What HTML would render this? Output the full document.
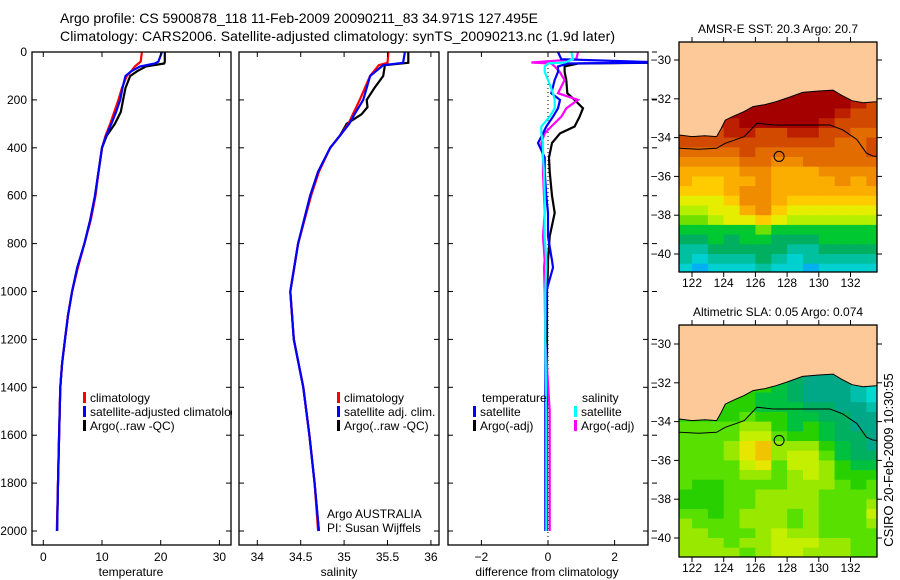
<!DOCTYPE html>
<html><head><meta charset="utf-8">
<style>
html,body{margin:0;padding:0;background:#fff;}
svg{display:block;font-family:"Liberation Sans",sans-serif;}
</style></head>
<body>
<svg id="fig" width="900" height="580" viewBox="0 0 900 580" xmlns="http://www.w3.org/2000/svg">
<defs>
<clipPath id="c1"><rect x="32" y="52" width="199" height="493"/></clipPath>
<clipPath id="c2"><rect x="239" y="52" width="200" height="493"/></clipPath>
<clipPath id="c3"><rect x="448" y="52" width="200" height="493"/></clipPath>
<clipPath id="m1"><rect x="679" y="42" width="198" height="230"/></clipPath>
<clipPath id="m2"><rect x="679" y="325" width="198" height="232"/></clipPath>
</defs>
<text x="60" y="23" font-size="14" textLength="478">Argo profile: CS 5900878_118 11-Feb-2009 20090211_83 34.971S 127.495E</text>
<text x="60" y="41" font-size="14" textLength="555">Climatology: CARS2006. Satellite-adjusted climatology: synTS_20090213.nc (1.9d later)</text>
<text transform="translate(893,460) rotate(-90)" font-size="13" text-anchor="middle">CSIRO 20-Feb-2009 10:30:55</text>
</svg>
<script>
// ---------- data ----------
const depthT = [0,40,48,60,80,100,150,200,250,300,350,400,500,600,700,800,900,1000,1100,1200,1300,1400,1600,1800,2000];
const tempArgo = [20.7,20.7,20.6,17.5,16.0,14.8,14.0,13.6,13.2,12.2,10.8,10.0,9.4,8.8,8.0,7.0,5.8,4.9,4.2,3.7,3.2,2.9,2.7,2.5,2.35];
const tempClim = [16.8,16.6,16.2,15.6,15.0,14.2,13.4,12.8,12.1,11.4,10.6,10.0,9.4,8.9,8.1,7.0,5.9,4.9,4.2,3.7,3.2,2.9,2.7,2.5,2.3];
const tempSat  = [20.2,19.6,19.0,16.5,15.0,14.0,13.5,13.1,12.4,11.6,10.7,10.0,9.4,8.8,8.0,7.0,5.8,4.9,4.2,3.7,3.2,2.9,2.7,2.5,2.35];
const depthS = [0,45,55,100,150,200,230,260,300,350,400,500,600,800,1000,1200,1400,1600,1800,2000];
const salArgo = [35.74,35.74,35.47,35.45,35.35,35.26,35.27,35.2,35.03,34.95,34.84,34.7,34.61,34.47,34.38,34.42,34.53,34.6,34.66,34.71];
const salClim = [35.51,35.5,35.4,35.3,35.24,35.18,35.14,35.1,35.05,34.95,34.84,34.71,34.62,34.47,34.38,34.42,34.53,34.6,34.66,34.7];
const salSat  = [35.7,35.68,35.45,35.3,35.26,35.22,35.17,35.12,35.06,34.95,34.84,34.7,34.61,34.47,34.38,34.42,34.53,34.6,34.66,34.71];
const depthD = [0,30,44,48,60,83,117,172,200,235,270,311,340,380,440,500,600,672,770,870,900,1000,1200,1500,1800,2000];
const diffTArgo = [3.9,3.9,3.9,0.9,0.5,0.5,0.55,0.58,0.8,1.05,0.95,0.8,0.36,0.12,0.03,0.05,0.12,0.2,0.05,0.0,0.0,-0.03,-0.03,-0.03,-0.03,-0.03];
const diffTSat  = [0.3,0.4,3.5,0.6,0.3,0.3,0.2,0.1,0.36,0.3,0.15,-0.05,-0.15,-0.3,-0.1,-0.1,-0.05,0.0,0.0,0.12,0.15,-0.05,-0.08,-0.08,-0.08,-0.08];
const diffSSat  = [0.7,0.75,0.5,0.0,-0.1,-0.1,0.0,0.15,0.2,0.2,0.05,-0.2,-0.2,-0.15,-0.15,-0.12,-0.1,-0.1,-0.1,-0.05,-0.05,-0.08,-0.08,-0.05,-0.05,-0.05];
const diffSArgo = [0.9,0.85,-0.5,0.1,0.2,0.35,0.5,0.3,0.9,0.55,0.4,0.1,-0.1,-0.2,-0.15,-0.15,-0.12,-0.1,-0.15,-0.1,-0.12,-0.1,-0.08,0.05,0.05,0.05];
const depthTicks = [0,200,400,600,800,1000,1200,1400,1600,1800,2000];
const tempTicks = [0,10,20,30];
const salTicks = [34,34.5,35,35.5,36];
const salTickLabels = ["34","34.5","35","35.5","36"];
const diffTicks = [-2,0,2];
const latTicks = [-30,-32,-34,-36,-38,-40];
const lonTicks = [122,124,126,128,130,132];
const argoLon = 127.495, argoLat = -34.971;
const sstGrid = [
[0,0,0,0,0,0,0,0,0,0,0,1,2],[0,0,0,0,0,0,0,0,0,0,0,1,2],[0,0,0,0,0,0,0,0,0,0,1,2,2],
[1,1,1,1,0,0,0,0,0,1,2,2,2],[2,2,2,1,1,2,2,1,1,2,2,3,3],[2,2,2,2,2,2,2,2,2,2,3,3,2],
[3,3,3,3,2,3,3,3,3,3,3,3,2],[4,4,4,4,3,3,4,4,3,3,3,3,3],[5,5,5,5,4,4,5,5,5,4,4,4,4],
[5,6,6,5,5,4,5,5,5,5,4,5,4],[6,6,6,5,4,4,5,5,5,5,5,5,5],[7,7,7,6,4,4,5,6,6,6,6,6,6],
[8,8,7,7,5,4,6,7,7,7,7,7,7],[9,9,8,7,7,6,7,8,8,8,8,8,8],[10,10,10,10,10,9,10,10,10,10,10,10,10],
[11,11,10,11,10,10,11,11,11,10,10,10,10],[12,12,11,11,11,11,11,12,12,11,11,11,11],
[12,13,12,12,12,11,12,13,12,12,12,12,12],[13,14,13,13,13,12,13,13,14,13,13,13,13]];
const sstPalette = ["#a40000","#bd2000","#d24a00","#e26c00","#f08c00","#fbae00","#ffcc00","#e6ee00","#b4f000","#70e000","#00c830","#00b060","#00c0a0","#00d0d0","#00b0f0"];
const slaGrid = [
[5,5,5,5,5,5,6,7,8,8,8,9,10],[5,5,5,5,5,5,6,7,8,8,8,9,10],[5,5,5,5,5,6,6,7,8,8,8,9,10],
[5,5,5,5,5,6,6,6,7,7,8,8,9],[5,5,5,5,4,5,5,6,6,7,7,8,8],[4,4,4,4,3,3,5,6,5,6,7,8,8],
[4,4,4,4,2,2,4,5,5,6,7,7,8],[4,4,4,3,1,0,3,3,3,5,6,7,8],[4,4,4,3,1,0,3,2,2,4,6,7,7],
[4,4,4,4,2,1,4,2,2,3,5,6,6],[4,4,4,4,3,3,4,3,2,3,5,5,5],[4,5,5,4,4,4,4,3,3,3,4,5,4],
[5,5,5,4,4,3,3,3,3,4,4,4,4],[5,5,5,4,4,3,3,3,3,4,4,4,3],[4,4,5,4,3,3,3,4,3,4,4,4,2],
[3,4,4,4,3,3,3,4,3,4,4,4,3],[3,3,4,4,4,3,2,3,3,4,4,4,4],[3,3,3,4,3,3,2,2,2,3,3,4,4],
[3,3,3,3,4,3,2,2,3,3,3,4,4]];
const slaPalette = ["#f0c400","#e6e600","#c4f000","#98e800","#58e000","#28d000","#00c040","#00b060","#00a888","#00c0ac","#00d8d0"];
const coastLon = [121.0,121.25,122.0,122.8,123.55,123.8,124.1,124.6,125.3,125.85,126.6,127.3,128.2,128.98,130.0,130.9,131.4,132.1,132.8,133.6,134.0];
const coastLat = [-33.85,-33.87,-33.95,-33.9,-33.95,-33.6,-33.1,-32.9,-32.65,-32.4,-32.3,-32.15,-31.9,-31.67,-31.6,-31.55,-31.8,-32.1,-32.2,-32.15,-32.1];
const shelfLon = [121.0,121.25,122.4,123.55,124.08,125.3,126.1,127.1,128.5,130.7,131.5,132.4,133.0,133.4,134.0];
const shelfLat = [-34.55,-34.55,-34.6,-34.55,-34.3,-33.95,-33.26,-33.35,-33.35,-33.35,-33.6,-34.1,-34.8,-34.95,-35.0];

// ---------- scales ----------
const yD = d => 52 + d*0.2395;
const xT = v => 43.3 + v*5.87;
const xS = v => 257.3 + (v-34)*86.8;
const xDf = v => 548 + v*33.3;
const xLon = lon => 692 + (lon-122)*15.85;
const yLat1 = lat => 60 + (-30-lat)*19.4;
const yLat2 = lat => 344 + (-30-lat)*19.4;

const svg = document.getElementById('fig');
const NS = 'http://www.w3.org/2000/svg';
function mk(tag, attrs, parent){
  const e = document.createElementNS(NS, tag);
  for (const k in attrs) e.setAttribute(k, attrs[k]);
  (parent||svg).appendChild(e);
  return e;
}
function txt(x,y,s,size,anchor,parent){
  const t = mk('text',{x:x,y:y,'font-size':size||12,'text-anchor':anchor||'start'},parent);
  t.textContent = s;
  return t;
}

const panels = [
  {x:32,w:199,clip:'c1',name:'temperature-panel'},
  {x:239,w:200,clip:'c2',name:'salinity-panel'},
  {x:448,w:200,clip:'c3',name:'difference-panel'}
];
const panelGroups = [];
panels.forEach(p=>{
  const g = mk('g',{});
  
  
  const bg = mk('rect',{x:p.x,y:52,width:p.w,height:493,fill:'#fff'},g);
  
  
  panelGroups.push(g);
});

function series(g, clip, xs, ys, xf, color, name, dash){
  const pts = xs.map((v,i)=>xf(v).toFixed(1)+','+yD(ys[i]).toFixed(1)).join(' ');
  const pl = mk('polyline',{points:pts,fill:'none',stroke:color,'stroke-width':2.2,'clip-path':'url(#'+clip+')','stroke-linejoin':'miter'},g);
  if (dash) pl.setAttribute('stroke-dasharray', dash);
  
  
}

series(panelGroups[0],'c1',tempArgo,depthT,xT,'#000','temp-argo-line');
series(panelGroups[0],'c1',tempClim,depthT,xT,'#ff0000','temp-climatology-line');
series(panelGroups[0],'c1',tempSat,depthT,xT,'#0000ff','temp-satellite-line');
series(panelGroups[1],'c2',salArgo,depthS,xS,'#000','sal-argo-line');
series(panelGroups[1],'c2',salClim,depthS,xS,'#ff0000','sal-climatology-line');
series(panelGroups[1],'c2',salSat,depthS,xS,'#0000ff','sal-satellite-line');
const zl = mk('line',{x1:xDf(0),y1:52,x2:xDf(0),y2:545,stroke:'#000','stroke-width':1,'stroke-dasharray':'1,3'},panelGroups[2]);


series(panelGroups[2],'c3',diffTArgo,depthD,xDf,'#000','diff-temp-argo-line');
series(panelGroups[2],'c3',diffSArgo,depthD,xDf,'#ff00ff','diff-sal-argo-line');
series(panelGroups[2],'c3',diffTSat,depthD,xDf,'#0000ff','diff-temp-satellite-line');
series(panelGroups[2],'c3',diffSSat,depthD,xDf,'#00ffff','diff-sal-satellite-line');

function frame(g,x,y,w,h){
  const r = mk('rect',{x:x,y:y,width:w,height:h,fill:'none',stroke:'#000','stroke-width':1.3},g);
  
  
}
panels.forEach((p,i)=>{
  const g = panelGroups[i];
  frame(g,p.x,52,p.w,493);
  depthTicks.forEach(d=>{
    const y = yD(d);
    const t1 = mk('line',{x1:p.x,y1:y,x2:p.x+5,y2:y,stroke:'#000'},g);
    
    
    const t2 = mk('line',{x1:p.x+p.w-5,y1:y,x2:p.x+p.w,y2:y,stroke:'#000'},g);
    
    
    if (i===2){
      const t3 = mk('line',{x1:p.x+p.w+4,y1:y,x2:p.x+p.w+9,y2:y,stroke:'#000'},g);
      
      
    }
  });
});
depthTicks.forEach(d=>{
  const t = txt(27,yD(d)+4,String(d),12,'end');
  
  
});
function xticks(g, vals, labels, f){
  vals.forEach((v,i)=>{
    const x = f(v);
    const a = mk('line',{x1:x,y1:52,x2:x,y2:57,stroke:'#000'},g);
    
    
    const b = mk('line',{x1:x,y1:540,x2:x,y2:545,stroke:'#000'},g);
    
    
    const t = txt(x,561,labels[i],12,'middle',g);
    
    
  });
}
xticks(panelGroups[0],tempTicks,tempTicks.map(String),xT);
xticks(panelGroups[1],salTicks,salTickLabels,xS);
xticks(panelGroups[2],diffTicks,diffTicks.map(v=>v<0?'\u2212'+(-v):String(v)),xDf);
let at;
at = txt(131,576,'temperature',12,'middle',panelGroups[0]);


at = txt(339,576,'salinity',12,'middle',panelGroups[1]);


at = txt(547,576,'difference from climatology',12,'middle',panelGroups[2]);



function legEntry(g,mx,ty,color,label){
  if (color){
    const m = mk('rect',{x:mx,y:ty-10,width:3,height:11,fill:color},g);
    
    
  }
  const t = txt(mx+7,ty,label,12,'start',g);
  
  
}
legEntry(panelGroups[0],83,402,'#ff0000','climatology');
legEntry(panelGroups[0],83,416,'#0000ff','satellite-adjusted climatology');
legEntry(panelGroups[0],83,430,'#000','Argo(..raw -QC)');
const cover = mk('rect',{x:232,y:380,width:7,height:60,fill:'#fff'});


svg.appendChild(panelGroups[1]);
svg.appendChild(panelGroups[2]);
legEntry(panelGroups[1],337,402,'#ff0000','climatology');
legEntry(panelGroups[1],337,416,'#0000ff','satellite adj. clim.');
legEntry(panelGroups[1],337,430,'#000','Argo(..raw -QC)');
at = txt(327,518,'Argo AUSTRALIA',12,'start',panelGroups[1]);


at = txt(327,532,'PI: Susan Wijffels',12,'start',panelGroups[1]);


legEntry(panelGroups[2],475,402,null,'temperature');
legEntry(panelGroups[2],473,416,'#0000ff','satellite');
legEntry(panelGroups[2],473,430,'#000','Argo(-adj)');
legEntry(panelGroups[2],575,402,null,'salinity');
legEntry(panelGroups[2],574,416,'#00ffff','satellite');
legEntry(panelGroups[2],574,430,'#ff00ff','Argo(-adj)');

function drawMap(top,h,yLat,grid,palette,clip,name,title){
  const g = mk('g',{});
  
  
  const cg = mk('g',{'clip-path':'url(#'+clip+')'},g);
  grid.forEach((row,r)=>{
    const lat0 = -31.5 - r*0.5;
    row.forEach((v,c)=>{
      const x0 = xLon(121+c), x1 = xLon(122+c);
      const y0 = yLat(lat0), y1 = yLat(lat0-0.5);
      const cell = mk('rect',{x:x0.toFixed(1),y:y0.toFixed(1),width:(x1-x0+0.5).toFixed(1),height:(y1-y0+0.5).toFixed(1),fill:palette[v]},cg);
      
      
    });
  });
  let pts = coastLon.map((lon,i)=>xLon(lon).toFixed(1)+','+yLat(coastLat[i]).toFixed(1));
  pts.push(xLon(134)+','+(top-5)); pts.push(xLon(121)+','+(top-5));
  const land = mk('polygon',{points:pts.join(' '),fill:'#fdc998',stroke:'#000','stroke-width':1},cg);
  
  
  const shelf = mk('polyline',{points:shelfLon.map((lon,i)=>xLon(lon).toFixed(1)+','+yLat(shelfLat[i]).toFixed(1)).join(' '),fill:'none',stroke:'#000','stroke-width':1},cg);
  
  
  const pt = mk('circle',{cx:xLon(argoLon),cy:yLat(argoLat),r:5,fill:'none',stroke:'#000','stroke-width':1},cg);
  
  
  const fr = mk('rect',{x:679,y:top,width:198,height:h,fill:'none',stroke:'#000','stroke-width':1.3},g);
  
  
  latTicks.forEach(lat=>{
    const y = yLat(lat);
    const a = mk('line',{x1:674,y1:y,x2:679,y2:y,stroke:'#000'},g);
    
    
    const b = mk('line',{x1:877,y1:y,x2:882,y2:y,stroke:'#000'},g);
    
    
    const t = txt(671,y+4,'\u2212'+(-lat),12,'end',g);
    
    
  });
  lonTicks.forEach(lon=>{
    const x = xLon(lon);
    const a = mk('line',{x1:x,y1:top-5,x2:x,y2:top,stroke:'#000'},g);
    
    
    const b = mk('line',{x1:x,y1:top+h,x2:x,y2:top+h+5,stroke:'#000'},g);
    
    
    const t = txt(x,top+h+15,String(lon),12,'middle',g);
    
    
  });
  const tt = txt(778,top-9,title,12,'middle',g);
  
  
}
drawMap(42,230,yLat1,sstGrid,sstPalette,'m1','sst-map','AMSR-E SST: 20.3 Argo: 20.7');
drawMap(325,232,yLat2,slaGrid,slaPalette,'m2','sla-map','Altimetric SLA: 0.05 Argo: 0.074');
</script>
</body></html>
